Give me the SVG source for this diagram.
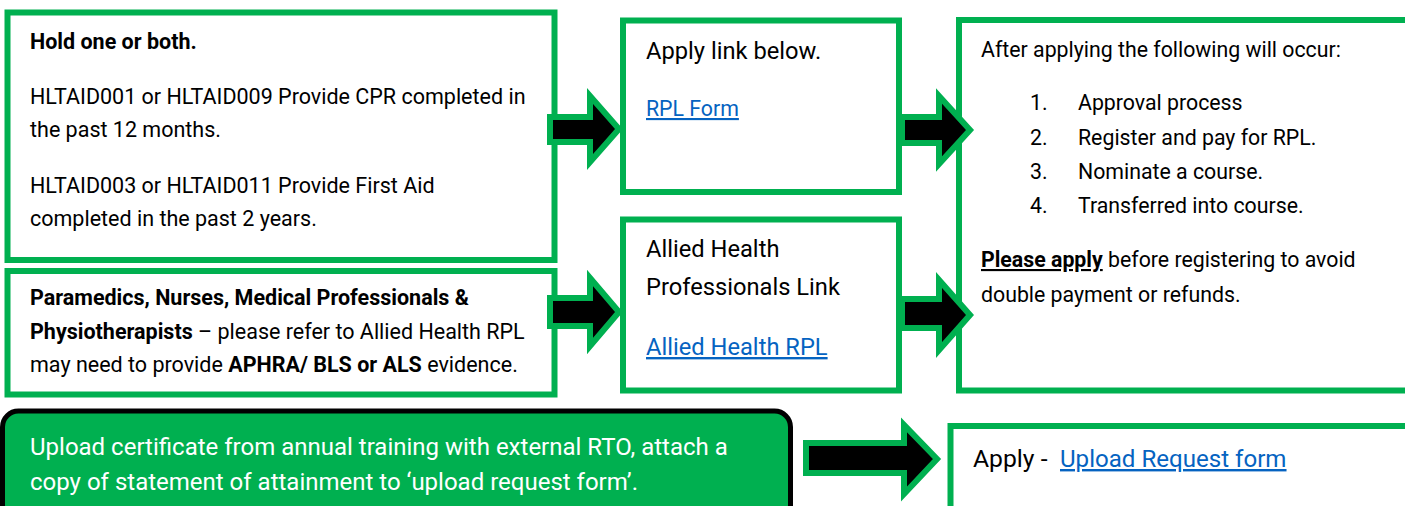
<svg xmlns="http://www.w3.org/2000/svg" width="1405" height="506" viewBox="0 0 1405 506">
<style>
.box{fill:#fff;stroke:#00b050;stroke-width:6}
.arr{fill:#000;stroke:#00b050;stroke-width:6;stroke-linejoin:miter}
text{font-family:Roboto,"Liberation Sans",sans-serif;fill:#000}
.t{font-size:21.5px}
.r{font-size:21.3px}
.m{font-size:23.7px}
.b{font-weight:bold}
.lnk{fill:#0563c1;text-decoration:underline}
.w{fill:#fff;font-size:24px}
</style>
<rect width="1405" height="506" fill="#fff"/>
<g id="node-hold">
<rect class="box" x="7.5" y="12.5" width="547" height="247.5"/>
<text class="t b" x="30" y="49">Hold one or both.</text>
<text class="t" x="30" y="104">HLTAID001 or HLTAID009 Provide CPR completed in</text>
<text class="t" x="30" y="137">the past 12 months.</text>
<text class="t" x="30" y="193">HLTAID003 or HLTAID011 Provide First Aid</text>
<text class="t" x="30" y="226">completed in the past 2 years.</text>
</g>
<g id="node-paramedics">
<rect class="box" x="7.5" y="271" width="547" height="123.5"/>
<text class="t" x="30" y="305"><tspan class="b">Paramedics, Nurses, Medical Professionals &amp;</tspan></text>
<text class="t" x="30" y="339"><tspan class="b">Physiotherapists</tspan> – please refer to Allied Health RPL</text>
<text class="t" x="30" y="372">may need to provide <tspan class="b">APHRA/ BLS or ALS</tspan> evidence.</text>
</g>
<g id="node-apply-link">
<rect class="box" x="623" y="20.5" width="276" height="171.5"/>
<text class="m" x="646" y="59" font-size="24px">Apply link below.</text>
<text class="lnk" x="646" y="116" font-size="21.3px">RPL Form</text>
</g>
<g id="node-allied">
<rect class="box" x="623" y="219.5" width="276" height="171"/>
<text class="m" x="646" y="257">Allied Health</text>
<text class="m" x="646" y="295">Professionals Link</text>
<text class="m lnk" x="646" y="355">Allied Health RPL</text>
</g>
<g id="node-after">
<rect class="box" x="959" y="20" width="460" height="370.5"/>
<text class="r" x="981" y="57">After applying the following will occur:</text>
<text class="r" x="1030" y="110">1.</text><text class="r" x="1078" y="110">Approval process</text>
<text class="r" x="1030" y="145">2.</text><text class="r" x="1078" y="145">Register and pay for RPL.</text>
<text class="r" x="1030" y="179">3.</text><text class="r" x="1078" y="179">Nominate a course.</text>
<text class="r" x="1030" y="213">4.</text><text class="r" x="1078" y="213">Transferred into course.</text>
<text class="r" x="981" y="267"><tspan class="b" text-decoration="underline">Please apply</tspan> before registering to avoid</text>
<text class="r" x="981" y="302">double payment or refunds.</text>
</g>
<g id="node-upload">
<rect x="2.5" y="411" width="788" height="120" rx="16" fill="#00b050" stroke="#000" stroke-width="5"/>
<text class="w" x="30" y="455">Upload certificate from annual training with external RTO, attach a</text>
<text class="w" x="30" y="490">copy of statement of attainment to ‘upload request form’.</text>
</g>
<g id="node-apply-upload">
<rect class="box" x="950.5" y="426" width="470" height="100"/>
<text x="973" y="467" font-size="24.7px">Apply - </text>
<text class="lnk" x="1060" y="467" font-size="24.1px">Upload Request form</text>
</g>
<g id="connectors">
<polygon class="arr" points="550,117 590,117 590,96 619,129 590,162 590,142 550,142"/>
<polygon class="arr" points="550,298 590,298 590,278 619,312 590,346 590,326 550,326"/>
<polygon class="arr" points="902,117 939,117 939,96 970,130 939,164 939,143 902,143"/>
<polygon class="arr" points="902,299 939,299 939,280 970,315 939,350 939,328 902,328"/>
<polygon class="arr" points="806,443 904,443 904,425 937,459 904,494 904,473 806,473"/>
</g>
</svg>
